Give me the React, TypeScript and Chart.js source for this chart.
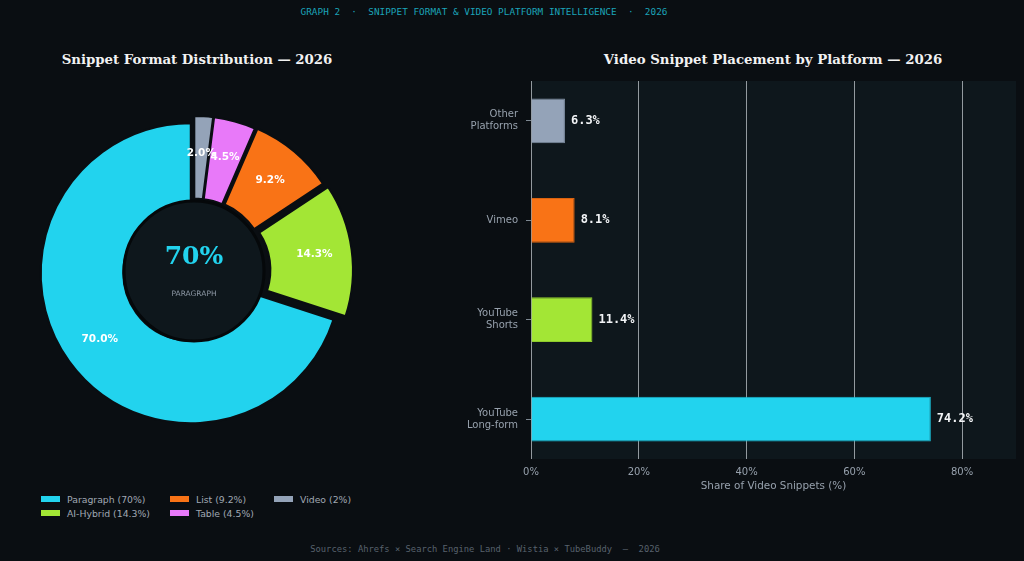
import React, { useEffect, useRef } from 'react';
import { Chart, registerables } from 'chart.js';

Chart.register(...registerables);

// ---------- Data ----------
const HEADER = 'GRAPH 2  ·  SNIPPET FORMAT & VIDEO PLATFORM INTELLIGENCE  ·  2026';
const FOOTER = 'Sources: Ahrefs × Search Engine Land · Wistia × TubeBuddy  —  2026';
const LEFT_TITLE = 'Snippet Format Distribution — 2026';
const RIGHT_TITLE = 'Video Snippet Placement by Platform — 2026';

const FORMAT_LABELS = ['Paragraph', 'AI-Hybrid', 'List', 'Table', 'Video'];
const FORMAT_SHARES = [70.0, 14.3, 9.2, 4.5, 2.0];

const PLATFORM_LABELS = ['YouTube\nLong-form', 'YouTube\nShorts', 'Vimeo', 'Other\nPlatforms'];
const PLATFORM_SHARES = [74.2, 11.4, 8.1, 6.3];
const X_TICKS = [0, 20, 40, 60, 80];
const X_TITLE = 'Share of Video Snippets (%)';

// ---------- Styles ----------
const BG = '#0a0e12';
const PANEL = '#0e171c';
const FORMAT_COLORS = ['#22d3ee', '#a3e635', '#f97316', '#e879f9', '#94a3b8'];
const FORMAT_EXPLODE = [4, 9, 6, 5, 5];
const PLATFORM_COLORS = ['#22d3ee', '#a3e635', '#f97316', '#94a3b8'];
const PLATFORM_BORDERS = ['#1bb8cf', '#8fcb2c', '#d9620f', '#7f8ea3'];
const GRID = 'rgba(200,205,210,0.72)';
const TICK_TEXT = '#97a1ad';

function Donut() {
  const ref = useRef<HTMLCanvasElement>(null);
  useEffect(() => {
    const labels = [...FORMAT_LABELS].reverse();
    const data = [...FORMAT_SHARES].reverse();
    const colors = [...FORMAT_COLORS].reverse();
    const explode = [...FORMAT_EXPLODE].reverse();
    const R = 150;

    const explodePlugin = {
      id: 'explode',
      afterDatasetsUpdate(chart: any) {
        const meta = chart.getDatasetMeta(0);
        meta.data.forEach((arc: any, i: number) => {
          const mid = (arc.startAngle + arc.endAngle) / 2;
          arc.x += Math.cos(mid) * explode[i];
          arc.y += Math.sin(mid) * explode[i];
        });
      },
    };

    const decorPlugin = {
      id: 'decor',
      afterDatasetsDraw(chart: any) {
        const ctx = chart.ctx as CanvasRenderingContext2D;
        const { chartArea } = chart;
        const cx = (chartArea.left + chartArea.right) / 2;
        const cy = (chartArea.top + chartArea.bottom) / 2;
        ctx.save();
        ctx.beginPath();
        ctx.arc(cx, cy, 70, 0, Math.PI * 2);
        ctx.fillStyle = PANEL;
        ctx.fill();
        ctx.lineWidth = 3;
        ctx.strokeStyle = '#05080a';
        ctx.stroke();
        ctx.textAlign = 'center';
        ctx.textBaseline = 'middle';
        ctx.fillStyle = FORMAT_COLORS[0];
        ctx.font = 'bold 25px "DejaVu Serif"';
        ctx.fillText(Math.round(FORMAT_SHARES[0]) + '%', cx, cy - 14);
        ctx.fillStyle = '#8b96a3';
        ctx.font = '7.5px "DejaVu Sans"';
        ctx.fillText(FORMAT_LABELS[0].toUpperCase(), cx, cy + 23);
        const meta = chart.getDatasetMeta(0);
        ctx.fillStyle = '#ffffff';
        ctx.font = 'bold 10.5px "DejaVu Sans"';
        meta.data.forEach((arc: any, i: number) => {
          const mid = (arc.startAngle + arc.endAngle) / 2;
          const x = arc.x + Math.cos(mid) * R * 0.75;
          const y = arc.y + Math.sin(mid) * R * 0.75;
          ctx.fillText(data[i].toFixed(1) + '%', x, y);
        });
        ctx.restore();
      },
    };

    const chart = new Chart(ref.current!, {
      type: 'doughnut',
      data: {
        labels,
        datasets: [
          {
            data,
            backgroundColor: colors,
            borderColor: BG,
            borderWidth: 2,
            hoverOffset: 0,
          },
        ],
      },
      options: {
        responsive: false,
        animation: false,
        devicePixelRatio: 1,
        events: [],
        radius: R,
        cutout: '45%',
        rotation: 0,
        layout: { padding: 0 },
        plugins: { legend: { display: false }, tooltip: { enabled: false }, title: { display: false } },
      } as any,
      plugins: [explodePlugin, decorPlugin],
    });
    return () => chart.destroy();
  }, []);
  return (
    <canvas
      ref={ref}
      width={360}
      height={360}
      style={{ position: 'absolute', left: 14, top: 91, width: 360, height: 360 }}
    />
  );
}

function Bars() {
  const ref = useRef<HTMLCanvasElement>(null);
  useEffect(() => {
    const panelPlugin = {
      id: 'panel',
      beforeDraw(chart: any) {
        const { ctx, chartArea } = chart;
        ctx.save();
        ctx.fillStyle = PANEL;
        ctx.fillRect(chartArea.left, chartArea.top, chartArea.right - chartArea.left, chartArea.bottom - chartArea.top);
        ctx.restore();
      },
    };
    const valuePlugin = {
      id: 'values',
      afterDatasetsDraw(chart: any) {
        const ctx = chart.ctx as CanvasRenderingContext2D;
        const meta = chart.getDatasetMeta(0);
        ctx.save();
        ctx.fillStyle = '#f2f4f6';
        ctx.font = 'bold 12px "DejaVu Sans Mono"';
        ctx.textAlign = 'left';
        ctx.textBaseline = 'middle';
        meta.data.forEach((bar: any, i: number) => {
          ctx.fillText(PLATFORM_SHARES[i].toFixed(1) + '%', bar.x + 6, bar.y);
        });
        ctx.restore();
      },
    };

    const chart = new Chart(ref.current!, {
      type: 'bar',
      data: {
        datasets: [
          {
            data: PLATFORM_SHARES.map((v, i) => ({ x: v, y: i })),
            backgroundColor: PLATFORM_COLORS,
            borderColor: PLATFORM_BORDERS,
            borderWidth: 1,
            categoryPercentage: 1,
            barPercentage: 0.45,
          },
        ],
      },
      options: {
        indexAxis: 'y',
        responsive: false,
        animation: false,
        devicePixelRatio: 1,
        events: [],
        layout: { padding: { left: 0, right: 8, top: 11, bottom: 0 } },
        plugins: { legend: { display: false }, tooltip: { enabled: false }, title: { display: false } },
        scales: {
          x: {
            type: 'linear',
            min: 0,
            max: 90,
            offset: false,
            afterFit: (s: any) => {
              s.height = 51;
              s.paddingLeft = 0;
              s.paddingRight = 0;
            },
            border: { display: false },
            grid: { color: GRID, lineWidth: 1, drawTicks: false, offset: false },
            ticks: {
              stepSize: 20,
              includeBounds: false,
              padding: 7,
              color: TICK_TEXT,
              font: { family: 'DejaVu Sans', size: 10 },
              callback: (v: any) => (X_TICKS.includes(v) ? v + '%' : ''),
            },
            title: {
              display: true,
              text: X_TITLE,
              color: TICK_TEXT,
              font: { family: 'DejaVu Sans', size: 10.4 },
              padding: { top: 0, bottom: 17 },
            },
          },
          y: {
            type: 'linear',
            min: -0.4,
            max: 3.4,
            offset: false,
            afterFit: (s: any) => {
              s.width = 91;
              s.paddingTop = 0;
              s.paddingBottom = 0;
            },
            border: { display: false },
            grid: { drawOnChartArea: false, drawTicks: true, tickLength: 5, tickColor: '#7d8791', offset: false },
            ticks: {
              stepSize: 1,
              includeBounds: false,
              padding: 8,
              color: TICK_TEXT,
              font: { family: 'DejaVu Sans', size: 10, lineHeight: 1.2 },
              callback: (v: any) =>
                Number.isInteger(v) && PLATFORM_LABELS[v] ? PLATFORM_LABELS[v].split('\n') : '',
            },
          },
        },
      } as any,
      plugins: [panelPlugin, valuePlugin],
    });
    return () => chart.destroy();
  }, []);
  return (
    <canvas
      ref={ref}
      width={584}
      height={440}
      style={{ position: 'absolute', left: 440, top: 70, width: 584, height: 440 }}
    />
  );
}

const LEGEND_COLS_X = [41, 170, 274];
const LEGEND_ROWS_Y = [499, 513];

export default function App() {
  const legendItems = FORMAT_LABELS.map((l, i) => ({
    text: `${l} (${FORMAT_SHARES[i]}%)`,
    color: FORMAT_COLORS[i],
    col: Math.floor(i / 2),
    row: i % 2,
  }));
  return (
    <div
      style={{
        position: 'fixed',
        left: 0,
        top: 0,
        width: 1024,
        height: 561,
        background: BG,
        overflow: 'hidden',
      }}
    >
      <div
        style={{
          position: 'absolute',
          left: 0,
          width: 968,
          top: 5,
          lineHeight: '14px',
          textAlign: 'center',
          whiteSpace: 'pre',
          fontFamily: '"DejaVu Sans Mono", monospace',
          fontSize: 9.4,
          color: '#1ba3b8',
        }}
      >
        {HEADER}
      </div>
      <div
        style={{
          position: 'absolute',
          left: 0,
          width: 394,
          top: 50,
          lineHeight: '20px',
          textAlign: 'center',
          fontFamily: '"DejaVu Serif", serif',
          fontWeight: 'bold',
          fontSize: 13.3,
          color: '#f2f2f2',
        }}
      >
        {LEFT_TITLE}
      </div>
      <div
        style={{
          position: 'absolute',
          left: 546,
          width: 454,
          top: 50,
          lineHeight: '20px',
          textAlign: 'center',
          fontFamily: '"DejaVu Serif", serif',
          fontWeight: 'bold',
          fontSize: 13.3,
          color: '#f2f2f2',
        }}
      >
        {RIGHT_TITLE}
      </div>
      <Donut />
      <Bars />
      {legendItems.map((it, i) => (
        <div
          key={i}
          style={{
            position: 'absolute',
            left: LEGEND_COLS_X[it.col],
            top: LEGEND_ROWS_Y[it.row] - 7,
            height: 14,
            display: 'flex',
            alignItems: 'center',
            whiteSpace: 'pre',
            fontFamily: '"DejaVu Sans", sans-serif',
            fontSize: 9.3,
            color: '#a0a8b2',
          }}
        >
          <span style={{ display: 'inline-block', width: 19, height: 6, background: it.color, marginRight: 7 }} />
          <span>{it.text}</span>
        </div>
      ))}
      <div
        style={{
          position: 'absolute',
          left: 0,
          width: 970,
          top: 542,
          lineHeight: '14px',
          textAlign: 'center',
          whiteSpace: 'pre',
          fontFamily: '"DejaVu Sans Mono", monospace',
          fontSize: 8.8,
          color: '#58626d',
        }}
      >
        {FOOTER}
      </div>
    </div>
  );
}
